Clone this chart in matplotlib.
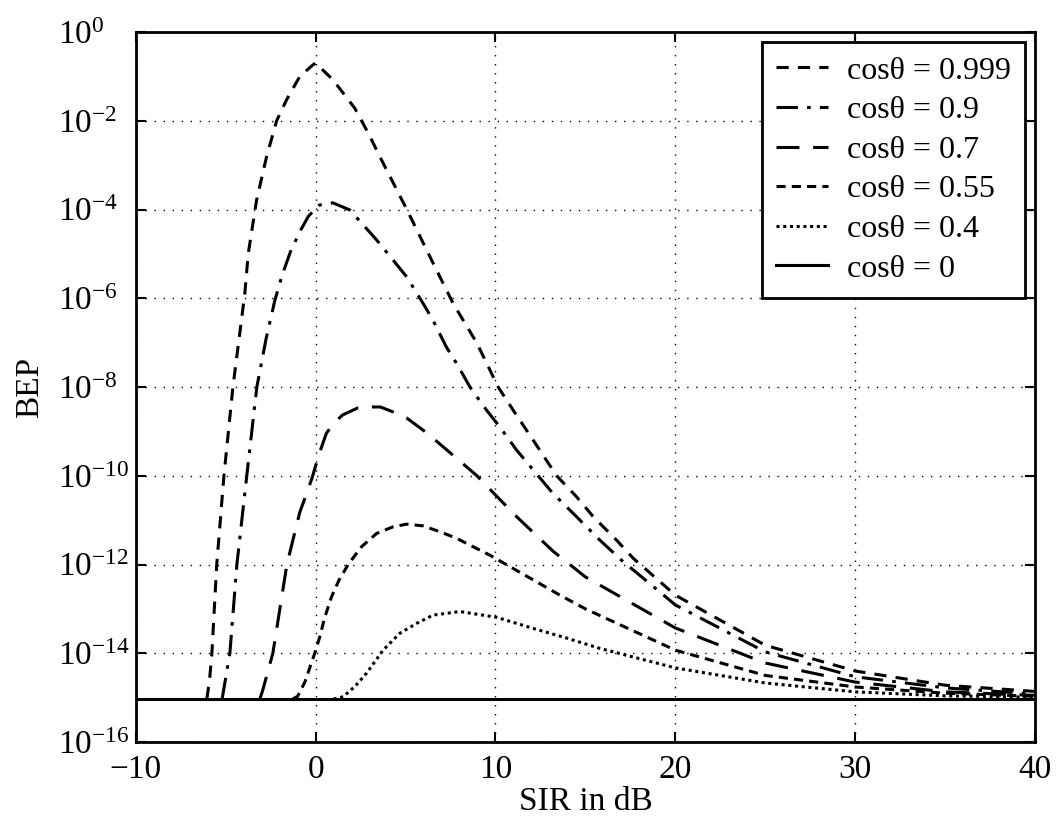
import numpy as np
import matplotlib
matplotlib.use("Agg")
import matplotlib.pyplot as plt
from matplotlib.ticker import NullLocator

plt.rcParams['font.family'] = ['Liberation Serif', 'DejaVu Serif']
plt.rcParams['mathtext.fontset'] = 'stix'

# Data: SIR in dB and log10(BEP)
sir_0999 = [-6.05, -5.9, -5.77, -5.5, -5.1, -4.6, -3.94, -3.75, -3.29, -2.73, -2.17, -1.62, -0.88, -0.15, 0.0,
            0.97, 2.18, 2.98, 3.52, 5.07, 6.52, 7.65, 8.95, 10.15, 10.98, 12.1, 13.4, 14.5, 15.43, 16.73,
            17.66, 20.0, 25.0, 30.0, 35.0, 40.0]
lbep_0999 = [-15.03, -14.6, -14.0, -12.0, -10.0, -8.0, -5.9, -5.0, -3.8, -2.81, -2.0, -1.53, -1.0, -0.74, -0.70,
             -1.08, -1.72, -2.32, -2.77, -4.0, -5.2, -6.12, -7.0, -8.0, -8.52, -9.2, -10.0, -10.47, -10.92, -11.45,
             -11.86, -12.69, -13.82, -14.4, -14.72, -14.86]

sir_09 = [-5.2, -4.77, -4.38, -3.83, -3.27, -2.75, -2.27, -1.88, -1.4, -0.88, -0.4, 0.2, 0.96, 1.9,
          3.4, 5.07, 5.98, 6.53, 7.27, 7.84, 8.58, 9.5, 10.24, 11.17, 12.1, 13.2, 14.5, 15.8,
          17.0, 20.0, 25.0, 30.0, 35.0, 40.0]
lbep_09 = [-15.03, -14.0, -12.0, -10.0, -8.0, -6.9, -6.05, -5.5, -4.95, -4.5, -4.15, -3.9, -3.85, -4.01,
           -4.69, -5.52, -6.12, -6.5, -7.1, -7.47, -8.0, -8.52, -8.9, -9.42, -9.87, -10.4, -10.92, -11.45,
           -11.9, -12.91, -13.97, -14.53, -14.78, -14.92]

sir_07 = [-3.1, -2.94, -2.38, -1.6, -0.88, -0.5, -0.2, 0.2, 0.6, 1.0, 1.5, 2.35, 3.0, 3.6, 4.3,
          5.07, 6.2, 7.3, 8.97, 9.32, 11.17, 13.2, 15.0, 20.0, 25.0, 30.0, 35.0, 40.0]
lbep_07 = [-15.03, -14.83, -14.0, -12.0, -10.82, -10.4, -10.05, -9.5, -9.04, -8.82, -8.63, -8.47, -8.45, -8.45, -8.56,
           -8.7, -9.04, -9.42, -10.0, -10.15, -10.92, -11.7, -12.28, -13.43, -14.22, -14.65, -14.87, -14.95]

sir_055 = [-1.27, -1.0, -0.6, -0.05, 0.23, 0.5, 0.88, 1.3, 1.81, 2.55, 3.39, 4.31, 5.06, 5.98,
           6.9, 7.84, 8.76, 9.69, 13.58, 15.0, 20.0, 25.0, 30.0, 35.0, 40.0]
lbep_055 = [-15.03, -14.97, -14.65, -14.0, -13.63, -13.2, -12.73, -12.35, -12.0, -11.6, -11.3, -11.15, -11.09, -11.13,
            -11.26, -11.41, -11.6, -11.79, -12.69, -13.0, -13.93, -14.5, -14.76, -14.9, -14.97]

sir_04 = [1.0, 1.53, 2.18, 2.83, 3.75, 4.68, 5.6, 6.53, 8.02, 10.06, 12.1, 13.97, 15.8,
          20.0, 25.0, 30.0, 35.0, 40.0]
lbep_04 = [-15.03, -14.98, -14.75, -14.45, -13.93, -13.55, -13.33, -13.14, -13.06, -13.19, -13.44, -13.66, -13.89,
           -14.33, -14.67, -14.87, -14.96, -14.99]

sir_0 = [-10.0, 40.0]
lbep_0 = [-15.03, -15.03]

labels = ['cosθ = 0.999', 'cosθ = 0.9', 'cosθ = 0.7', 'cosθ = 0.55', 'cosθ = 0.4', 'cosθ = 0']
yticks = [1e0, 1e-2, 1e-4, 1e-6, 1e-8, 1e-10, 1e-12, 1e-14, 1e-16]

fig = plt.figure(figsize=(10.61, 8.17), dpi=100)
ax = fig.add_axes([0.128, 0.0918, 0.8475, 0.869])

lw = 2.2
ax.plot(sir_0999, np.power(10.0, lbep_0999), color='black', lw=lw, dashes=(4, 3), label=labels[0])
ax.plot(sir_09, np.power(10.0, lbep_09), color='black', lw=lw, dashes=(7, 3, 1.2, 3), label=labels[1])
ax.plot(sir_07, np.power(10.0, lbep_07), color='black', lw=lw, dashes=(7.5, 4.5), label=labels[2])
ax.plot(sir_055, np.power(10.0, lbep_055), color='black', lw=lw, dashes=(3, 2), label=labels[3])
ax.plot(sir_04, np.power(10.0, lbep_04), color='black', lw=lw, dashes=(1, 1.2), label=labels[4])
ax.plot(sir_0, np.power(10.0, lbep_0), color='black', lw=lw, linestyle='-', label=labels[5])

ax.set_yscale('log')
ax.set_xlim(-10, 40)
ax.set_ylim(1e-16, 1e0)
ax.set_xticks([-10, 0, 10, 20, 30, 40])
ax.set_yticks(yticks)
ax.yaxis.set_minor_locator(NullLocator())

ax.grid(True, which='major', color='black', linestyle=(0, (1, 5.5)), linewidth=1.0)
ax.tick_params(direction='in', length=7, width=1.5, labelsize=24, top=True, right=True)
ax.tick_params(axis='x', pad=9)
ax.tick_params(axis='y', pad=56)
plt.setp(ax.get_yticklabels(), ha='left')
for s in ax.spines.values():
    s.set_linewidth(2)

ax.set_xlabel('SIR in dB', fontsize=24, labelpad=1)
ax.set_ylabel('BEP', fontsize=24, labelpad=9)

leg = ax.legend(loc='upper right', fontsize=23, frameon=True, fancybox=False, framealpha=1,
                edgecolor='black', handlelength=1.6, handletextpad=0.6, labelspacing=0.32,
                borderaxespad=0.31, borderpad=0.45)
leg.get_frame().set_linewidth(2)

fig.savefig('out.png', dpi=100)
